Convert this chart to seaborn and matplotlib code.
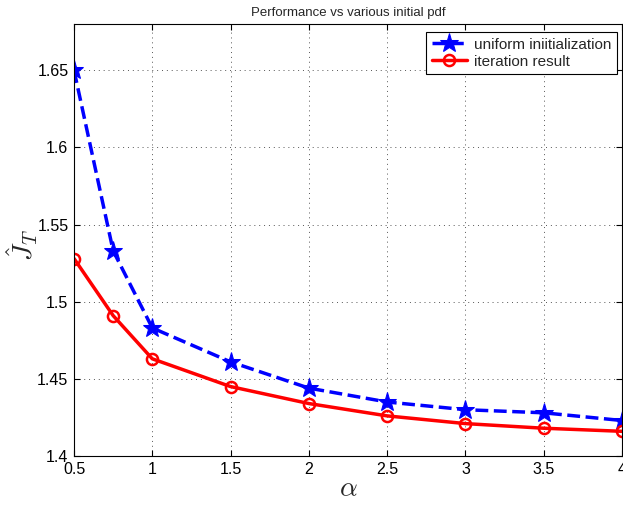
import numpy as np
import pandas as pd
import matplotlib
matplotlib.use("Agg")
import matplotlib.pyplot as plt
import seaborn as sns

# values
alpha = [0.5, 0.75, 1, 1.5, 2, 2.5, 3, 3.5, 4]
uniform_init = [1.650, 1.533, 1.483, 1.461, 1.444, 1.435, 1.430, 1.428, 1.423]
iteration_result = [1.528, 1.491, 1.463, 1.445, 1.434, 1.426, 1.421, 1.418, 1.416]
x_ticks = [0.5, 1, 1.5, 2, 2.5, 3, 3.5, 4]
y_ticks = [1.4, 1.45, 1.5, 1.55, 1.6, 1.65]

sns.set_style("white")
plt.rcParams['font.family'] = ['Liberation Sans', 'DejaVu Sans']
plt.rcParams['mathtext.fontset'] = 'cm'

df = pd.DataFrame({
    'alpha': alpha * 2,
    'J': uniform_init + iteration_result,
    'series': ['uniform iniitialization'] * len(alpha) + ['iteration result'] * len(alpha),
})

fig = plt.figure(figsize=(6.23, 5.05), dpi=100)
ax = fig.add_axes([74 / 623, 49 / 505, 548 / 623, 432 / 505])

sns.lineplot(data=df[df.series == 'uniform iniitialization'], x='alpha', y='J',
             color='blue', linestyle='--', linewidth=2.5, marker='*', markersize=14,
             markeredgecolor='blue', label='uniform iniitialization', ax=ax)
sns.lineplot(data=df[df.series == 'iteration result'], x='alpha', y='J',
             color='red', linestyle='-', linewidth=2.5, marker='o', markersize=8,
             markerfacecolor='none', markeredgecolor='red', markeredgewidth=1.8,
             label='iteration result', ax=ax)

ax.set_xlim(0.5, 4)
ax.set_ylim(1.4, 1.68)
ax.set_xticks(x_ticks)
ax.set_xticklabels(['0.5', '1', '1.5', '2', '2.5', '3', '3.5', '4'])
ax.set_yticks(y_ticks)
ax.set_yticklabels(['1.4', '1.45', '1.5', '1.55', '1.6', '1.65'])
ax.tick_params(direction='in', length=4, width=0.8, labelsize=11.5, colors='black',
               top=True, right=True, bottom=True, left=True, pad=4)
ax.grid(True, color='#555555', linestyle=(0, (1, 4)), linewidth=0.7)
for s in ax.spines.values():
    s.set_color('black')
    s.set_linewidth(0.8)

ax.set_title("Performance vs various initial pdf", fontsize=9.5, pad=6)
ax.set_xlabel(r'$\alpha$', fontsize=20, labelpad=0)
ax.set_ylabel(r'$\hat{J}_T$', fontsize=20)
ax.yaxis.set_label_coords(-0.062, 0.49)

leg = ax.legend(loc='upper right', bbox_to_anchor=(0.991, 0.981), borderaxespad=0,
                fontsize=11, frameon=True, fancybox=False, edgecolor='black',
                framealpha=1, handlelength=2.3, borderpad=0.35, labelspacing=0.2,
                handletextpad=0.5)
leg.get_frame().set_linewidth(0.8)

fig.savefig("out.png", dpi=100)
